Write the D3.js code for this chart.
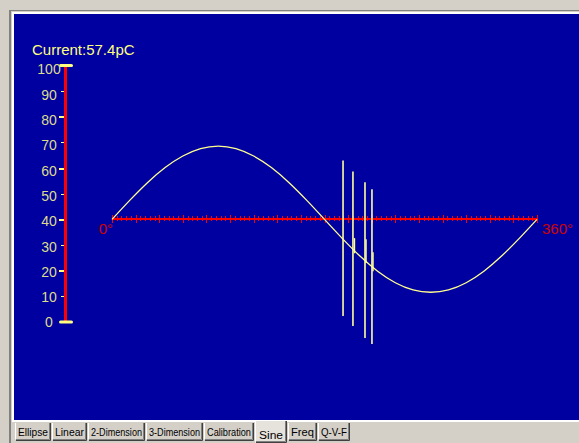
<!DOCTYPE html>
<html lang="en">
<head>
	<meta charset="UTF-8">
	<title>Sine</title>
	<script src="https://d3js.org/d3.v7.min.js"></script>
	<style>
		body {
			margin: 0;
			background-color: #d4d0c8;
		}
		svg {
			display: block;
		}
		.xaxis path,
		.yaxis path {
			display: none;
		}
		.xaxis line {
			stroke: #ff0000;
			shape-rendering: crispEdges;
		}
		.yaxis line {
			stroke: #ffff80;
			shape-rendering: crispEdges;
		}
		.tab text {
			font: 10px "Liberation Sans", Arial, sans-serif;
			fill: #000;
			text-anchor: middle;
		}
	</style>
</head>
<body>
	<script>
		// values
		var title = 'Current:57.4pC';
		var yTickValues = [0,10,20,30,40,50,60,70,80,90,100];
		var yTickLabels = ['0','10','20','30','40','50','60','70','80','90','100'];
		var xEndLabels = ['0°','360°'];

		var sineAngles = [0,15,30,45,60,75,90,105,120,135,150,165,180,195,210,225,240,255,270,285,300,315,330,345,360];
		var sineValues = [40.0,47.4,54.3,60.2,64.7,67.6,68.6,67.6,64.7,60.2,54.3,47.4,40.0,32.6,25.7,19.8,15.3,12.5,11.6,12.5,15.3,19.8,25.7,32.6,40.0];

		var spikeAngles = [195.7,204.1,214.3,220.2];
		var spikeTop = [63.0,58.7,54.5,51.8];
		var spikeBottom = [2.3,-1.6,-6.2,-8.6];

		var glitchAngles = [205.4,215.2,221.1];
		var glitchTop = [32.7,32.3,27.2];
		var glitchBottom = [26.8,23.0,19.8];

		var tabNames = ['Ellipse','Linear','2-Dimension','3-Dimension','Calibration','Sine','Freq','Q-V-F'];
		var tabEdges = [15,52,88,146,204,255,288,318,351];
		var activeTab = 'Sine';

		var w = 579,
			h = 443;

		var svg = d3.select('body')
			.append('svg')
			.attr('width', w)
			.attr('height', h);

		// window frame
		svg.append('rect').attr('width', w).attr('height', h).attr('fill', '#d4d0c8');
		svg.append('rect').attr('x', 9).attr('y', 10).attr('width', w - 9).attr('height', h - 10).attr('fill', '#808080');
		svg.append('rect').attr('x', 11).attr('y', 11).attr('width', w - 11).attr('height', h - 11).attr('fill', '#d4d0c8');
		svg.append('rect').attr('x', 12).attr('y', 12).attr('width', w - 12).attr('height', 410).attr('fill', '#ffffff');
		svg.append('rect').attr('x', 14).attr('y', 14).attr('width', w - 14).attr('height', 406).attr('fill', '#0000a0');

		var x = d3.scaleLinear().domain([0, 360]).range([112, 537]);
		var y = d3.scaleLinear().domain([0, 100]).range([322, 65.5]);
		var yLab = d3.scaleLinear().domain([0, 100]).range([322.5, 69.5]);

		// title
		svg.append('text')
			.attr('x', 32)
			.attr('y', 54.5)
			.attr('fill', '#ffff80')
			.style('font', '15px "Liberation Sans", Arial, sans-serif')
			.text(title);

		// y axis ticks
		svg.append('g')
			.attr('class', 'yaxis')
			.attr('transform', 'translate(64,0)')
			.call(d3.axisLeft(y).tickValues(yTickValues.filter(function(d){ return d % 20 == 10; })).tickSize(3).tickFormat(''))
			.selectAll('line').attr('stroke-width', 1);
		svg.append('g')
			.attr('class', 'yaxis')
			.attr('transform', 'translate(64,0)')
			.call(d3.axisLeft(y).tickValues(yTickValues.filter(function(d){ return d % 20 == 0 && d > 0 && d < 100; })).tickSize(5).tickFormat(''))
			.selectAll('line').attr('stroke-width', 2);

		svg.append('line')
			.attr('x1', 65.5).attr('x2', 65.5)
			.attr('y1', y(100)).attr('y2', y(0))
			.attr('stroke', '#ff0000')
			.attr('stroke-width', 3);

		// end caps
		svg.selectAll('rect.cap')
			.data([0, 100])
			.enter()
			.append('rect')
			.attr('class', 'cap')
			.attr('x', 59)
			.attr('y', function(d){ return y(d) - 1.5; })
			.attr('width', 14)
			.attr('height', 3)
			.attr('rx', 1.5)
			.attr('fill', '#ffff80');

		svg.selectAll('text.ylab')
			.data(yTickValues)
			.enter()
			.append('text')
			.attr('class', 'ylab')
			.attr('x', 49)
			.attr('y', function(d){ return yLab(d); })
			.attr('dy', '0.35em')
			.attr('text-anchor', 'middle')
			.attr('fill', '#dcdc8c')
			.style('font', '14px "Liberation Sans", Arial, sans-serif')
			.text(function(d, i){ return yTickLabels[i]; });

		// x axis (sits on the 40 line)
		var y0 = Math.round(y(40));
		svg.append('line')
			.attr('x1', x(0)).attr('x2', x(360))
			.attr('y1', y0).attr('y2', y0)
			.attr('stroke', '#ff0000')
			.attr('stroke-width', 2);

		svg.append('g')
			.attr('class', 'xaxis')
			.attr('transform', 'translate(0,' + (y0 - 3) + ')')
			.call(d3.axisBottom(x).tickValues(d3.range(0, 361, 4)).tickSize(5).tickFormat(''));
		svg.append('g')
			.attr('class', 'xaxis')
			.attr('transform', 'translate(0,' + (y0 - 4) + ')')
			.call(d3.axisBottom(x).tickValues(d3.range(0, 361, 20)).tickSize(8).tickFormat(''));

		svg.append('text')
			.attr('x', x(0) + 1)
			.attr('y', y0 + 15)
			.attr('text-anchor', 'end')
			.attr('fill', '#d00000')
			.style('font', '15px "Liberation Sans", Arial, sans-serif')
			.text(xEndLabels[0]);
		svg.append('text')
			.attr('x', x(360) + 5)
			.attr('y', y0 + 15)
			.attr('fill', '#d00000')
			.style('font', '15px "Liberation Sans", Arial, sans-serif')
			.text(xEndLabels[1]);

		// sine curve
		var line = d3.line()
			.x(function(d){ return x(d[0]); })
			.y(function(d){ return y(d[1]); })
			.curve(d3.curveNatural);

		svg.append('path')
			.datum(d3.zip(sineAngles, sineValues))
			.attr('d', line)
			.attr('fill', 'none')
			.attr('stroke', '#ffff90')
			.attr('stroke-width', 1.3);

		// spikes
		svg.selectAll('line.spike')
			.data(d3.zip(spikeAngles, spikeTop, spikeBottom))
			.enter()
			.append('line')
			.attr('class', 'spike')
			.attr('x1', function(d){ return x(d[0]); })
			.attr('x2', function(d){ return x(d[0]); })
			.attr('y1', function(d){ return y(d[1]); })
			.attr('y2', function(d){ return y(d[2]); })
			.attr('stroke', '#ffff99')
			.attr('stroke-width', 1.6);

		svg.selectAll('line.glitch')
			.data(d3.zip(glitchAngles, glitchTop, glitchBottom))
			.enter()
			.append('line')
			.attr('class', 'glitch')
			.attr('x1', function(d){ return x(d[0]); })
			.attr('x2', function(d){ return x(d[0]); })
			.attr('y1', function(d){ return y(d[1]); })
			.attr('y2', function(d){ return y(d[2]); })
			.attr('stroke', '#ffff99')
			.attr('stroke-width', 1.4);

		// tabs
		var tabs = svg.selectAll('g.tab')
			.data(tabNames)
			.enter()
			.append('g')
			.attr('class', 'tab');

		tabs.each(function(d, i){
			var g = d3.select(this),
				x0 = tabEdges[i],
				x1 = tabEdges[i + 1] - 1,
				on = d == activeTab,
				top = on ? 421 : 423,
				bot = on ? 443 : 441;
			g.append('rect')
				.attr('x', x0).attr('y', top)
				.attr('width', x1 - x0).attr('height', bot - top)
				.attr('fill', on ? '#e6e3dc' : '#d4d0c8');
			g.append('path')
				.attr('d', 'M' + (x0 + 0.5) + ',' + top + 'V' + (bot - 1.5))
				.attr('stroke', '#ffffff').attr('fill', 'none');
			g.append('path')
				.attr('d', 'M' + (x0 + 1) + ',' + (bot - 0.5) + 'H' + (x1 - 0.5) + 'V' + top)
				.attr('stroke', '#404040').attr('fill', 'none');
			g.append('path')
				.attr('d', 'M' + (x0 + 1) + ',' + (bot - 1.5) + 'H' + (x1 - 1.5) + 'V' + top)
				.attr('stroke', '#808080').attr('fill', 'none');
			g.append('text')
				.attr('x', (x0 + x1) / 2)
				.attr('y', on ? 439 : 436)
				.attr('textLength', Math.min(x1 - x0 - 6, d.length * 6))
				.attr('lengthAdjust', 'spacingAndGlyphs')
				.text(d);
		});
	</script>
</body>
</html>
